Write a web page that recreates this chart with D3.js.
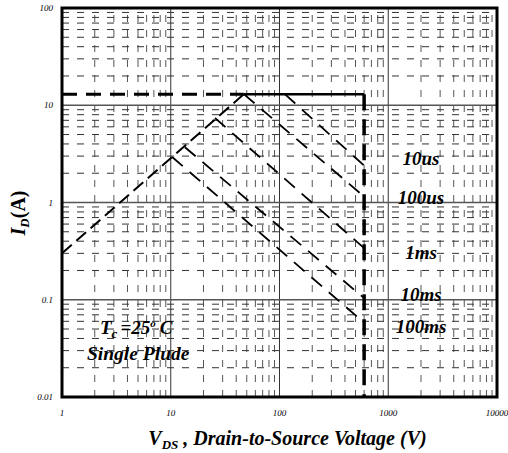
<!DOCTYPE html>
<html>
<head>
<meta charset="utf-8">
<script src="https://cdn.jsdelivr.net/npm/d3@7"></script>
<style>
  body { margin: 0; background: #fff; }
  svg { display: block; }
  text { font-family: "Liberation Serif", "Times New Roman", serif; }
</style>
</head>
<body>
<div id="soa"></div>
<script>
// chart values
var xTicks = [1, 10, 100, 1000, 10000];
var yTicks = [0.01, 0.1, 1, 10, 100];
var xTickLabels = ["1", "10", "100", "1000", "10000"];
var yTickLabels = ["0.01", "0.1", "1", "10", "100"];

var rdsLine = [[1, 0.3], [47, 13]];      // Rds(on) limit
var currentLimit = 13;                    // A
var vdss = 600;                           // V

var pulseNames = ["10us", "100us", "1ms", "10ms", "100ms"];
var pulseStartV = [112, 47, 25.5, 13.5, 10.3];
var pulseStartI = [13, 13, 7.4, 3.7, 2.94];
var pulseEndI = [2.4, 1.15, 0.34, 0.104, 0.058];
var pulseLabelI = [2.45, 0.96, 0.262, 0.096, 0.046];

// set the dimensions and margins of the graph
var margin = {top: 8, right: 11, bottom: 56, left: 62},
    width = 508 - margin.left - margin.right,
    height = 453 - margin.top - margin.bottom;

var svg = d3.select("#soa")
  .append("svg")
    .attr("width", 508)
    .attr("height", 453)
  .append("g")
    .attr("transform", "translate(" + margin.left + "," + margin.top + ")");

var x = d3.scaleLog().domain([1, 10000]).range([0, width]);
var y = d3.scaleLog().domain([0.01, 100]).range([height, 0]);

// minor grid values 2..9 in each decade
var xMinor = [], yMinor = [];
xTicks.slice(0, -1).forEach(function(d) {
  for (var k = 2; k <= 9; k++) xMinor.push(d * k);
});
yTicks.slice(0, -1).forEach(function(d) {
  for (var k = 2; k <= 9; k++) yMinor.push(d * k);
});

// minor grid (dashed)
svg.append("g").selectAll("line")
  .data(xMinor).enter().append("line")
    .attr("x1", function(d) { return x(d); })
    .attr("x2", function(d) { return x(d); })
    .attr("y1", height).attr("y2", 0)
    .style("stroke", "#555")
    .style("stroke-width", 1)
    .style("stroke-dasharray", "7,8");

svg.append("g").selectAll("line")
  .data(yMinor).enter().append("line")
    .attr("y1", function(d) { return y(d); })
    .attr("y2", function(d) { return y(d); })
    .attr("x1", 0).attr("x2", width)
    .style("stroke", "#333")
    .style("stroke-width", 1)
    .style("stroke-dasharray", "7,8");

// major grid (solid)
svg.append("g").selectAll("line")
  .data(xTicks.slice(1, -1)).enter().append("line")
    .attr("x1", function(d) { return x(d); })
    .attr("x2", function(d) { return x(d); })
    .attr("y1", height).attr("y2", 0)
    .style("stroke", "#333")
    .style("stroke-width", 1);

svg.append("g").selectAll("line")
  .data(yTicks.slice(1, -1)).enter().append("line")
    .attr("y1", function(d) { return y(d); })
    .attr("y2", function(d) { return y(d); })
    .attr("x1", 0).attr("x2", width)
    .style("stroke", "#555")
    .style("stroke-width", 1.3);

var line = d3.line()
  .x(function(d) { return x(d[0]); })
  .y(function(d) { return y(d[1]); });

// Rds(on) limit
svg.append("path")
  .datum(rdsLine)
  .attr("d", line)
  .style("fill", "none")
  .style("stroke", "#000")
  .style("stroke-width", 2)
  .style("stroke-dasharray", "13,6");

// current limit, dashed part
svg.append("path")
  .datum([[1, currentLimit], [rdsLine[1][0], currentLimit]])
  .attr("d", line)
  .style("fill", "none")
  .style("stroke", "#000")
  .style("stroke-width", 3)
  .style("stroke-dasharray", "15,9");

// current limit, solid part
svg.append("path")
  .datum([[rdsLine[1][0], currentLimit], [vdss, currentLimit]])
  .attr("d", line)
  .style("fill", "none")
  .style("stroke", "#000")
  .style("stroke-width", 2.5);

// VDSS limit
svg.append("path")
  .datum([[vdss, currentLimit], [vdss, 0.01]])
  .attr("d", line)
  .style("fill", "none")
  .style("stroke", "#000")
  .style("stroke-width", 3.5)
  .style("stroke-dasharray", "16,9");

// pulse lines
svg.append("g").selectAll("path")
  .data(pulseNames).enter().append("path")
    .attr("d", function(d, i) {
      return line([[pulseStartV[i], pulseStartI[i]], [vdss, pulseEndI[i]]]);
    })
    .style("fill", "none")
    .style("stroke", "#000")
    .style("stroke-width", 1.8)
    .style("stroke-dasharray", "14,9");

// frame
svg.append("rect")
  .attr("x", 0).attr("y", 0)
  .attr("width", width).attr("height", height)
  .style("fill", "none")
  .style("stroke", "#000")
  .style("stroke-width", 3);

// tick labels
svg.append("g").selectAll("text")
  .data(xTicks).enter().append("text")
    .attr("x", function(d) { return x(d); })
    .attr("y", height + 19)
    .attr("text-anchor", "middle")
    .style("font-size", "9px")
    .style("font-style", "italic")
    .text(function(d, i) { return xTickLabels[i]; });

svg.append("g").selectAll("text")
  .data(yTicks).enter().append("text")
    .attr("x", -9)
    .attr("y", function(d) { return y(d) + 3; })
    .attr("text-anchor", "end")
    .style("font-size", "9px")
    .style("font-style", "italic")
    .text(function(d, i) { return yTickLabels[i]; });

// pulse labels
svg.append("g").selectAll("text")
  .data(pulseNames).enter().append("text")
    .attr("x", x(2000))
    .attr("y", function(d, i) { return y(pulseLabelI[i]); })
    .attr("text-anchor", "middle")
    .style("font-size", "19px")
    .style("font-weight", "bold")
    .style("font-style", "italic")
    .text(function(d) { return d; });

// conditions
var cond = svg.append("text")
  .attr("x", 38).attr("y", 326)
  .style("font-size", "19px")
  .style("font-weight", "bold")
  .style("font-style", "italic");
cond.append("tspan").text("T");
cond.append("tspan").attr("dy", 4).style("font-size", "13px").text("c");
cond.append("tspan").attr("dy", -4).attr("dx", 3).text("=25");
cond.append("tspan").attr("dy", -7).style("font-size", "11px").text("o");
cond.append("tspan").attr("dy", 7).attr("dx", 4).text("C");

svg.append("text")
  .attr("x", 25).attr("y", 352)
  .style("font-size", "19.5px")
  .style("font-weight", "bold")
  .style("font-style", "italic")
  .text("Single Plude");

// X axis title
var xt = svg.append("text")
  .attr("x", width / 2 + 8)
  .attr("y", height + 48)
  .attr("text-anchor", "middle")
  .style("font-size", "20px")
  .style("font-weight", "bold")
  .style("font-style", "italic");
xt.append("tspan").text("V");
xt.append("tspan").attr("dy", 4).style("font-size", "13px").text("DS");
xt.append("tspan").attr("dy", -4).text(" , Drain-to-Source Voltage (V)");

// Y axis title
var yt = svg.append("text")
  .attr("transform", "rotate(-90)")
  .attr("x", -205)
  .attr("y", -37)
  .attr("text-anchor", "middle")
  .style("font-size", "20px")
  .style("font-weight", "bold");
yt.append("tspan").style("font-style", "italic").text("I");
yt.append("tspan").attr("dy", 4).style("font-size", "13px").style("font-style", "italic").text("D");
yt.append("tspan").attr("dy", -4).text("(A)");
</script>
</body>
</html>
